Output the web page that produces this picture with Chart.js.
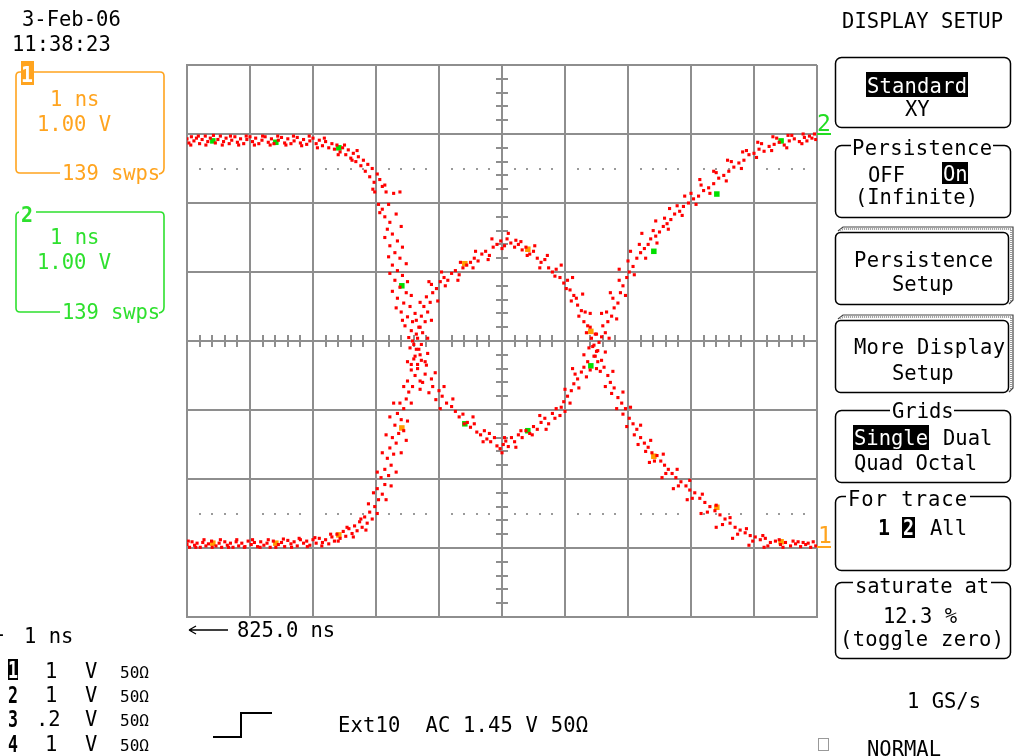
<!DOCTYPE html>
<html>
<head>
<meta charset="utf-8">
<script src="https://cdn.jsdelivr.net/npm/chart.js@4.4.1/dist/chart.umd.min.js"></script>
<style>
  html, body { margin: 0; padding: 0; background: #fff; }
  #wrap { position: relative; width: 1020px; height: 756px; overflow: hidden; background: #fff; }
  #scope { position: absolute; left: 0; top: 0; }
  #ov { position: absolute; left: 0; top: 0; pointer-events: none; }
</style>
</head>
<body>
<div id="wrap">
<canvas id="scope" width="1020" height="756"></canvas>
<svg id="ov" width="1020" height="756" font-family="DejaVu Sans Mono, monospace" font-size="20.5">
  <!-- date / time -->
  <text x="22" y="26" fill="#000">3-Feb-06</text>
  <text x="12" y="51" fill="#000">11:38:23</text>

  <!-- channel 1 box -->
  <path d="M60 173 H20 Q16 173 16 169 V76 Q16 72 20 72 H160 Q164 72 164 76 V168 Q164 173 159 174" fill="none" stroke="#ffa41f" stroke-width="1.6"/>
  <rect x="21" y="61" width="13" height="24" fill="#ffa41f"/>
  <text x="21" y="82" fill="#fff" font-weight="bold" font-size="22" textLength="12" lengthAdjust="spacingAndGlyphs">1</text>
  <text x="50" y="106" fill="#ffa41f">1 ns</text>
  <text x="37" y="131" fill="#ffa41f">1.00 V</text>
  <text x="62" y="180" fill="#ffa41f" textLength="98">139 swps</text>

  <!-- channel 2 box -->
  <path d="M60 312 H20 Q16 312 16 308 V216 Q16 212 20 212 H160 Q164 212 164 216 V307 Q164 312 159 313" fill="none" stroke="#2ee02e" stroke-width="1.6"/>
  <rect x="19" y="202" width="17" height="22" fill="#fff"/>
  <text x="21" y="222" fill="#2ee02e" font-weight="bold" font-size="22" textLength="12" lengthAdjust="spacingAndGlyphs">2</text>
  <text x="50" y="244" fill="#2ee02e">1 ns</text>
  <text x="37" y="269" fill="#2ee02e">1.00 V</text>
  <text x="62" y="319" fill="#2ee02e" textLength="98">139 swps</text>

  <!-- right panel -->
  <text x="842" y="28" fill="#000" textLength="161">DISPLAY SETUP</text>

  <rect x="835.5" y="57.5" width="175" height="70" rx="6" fill="none" stroke="#000" stroke-width="1.5"/>
  <rect x="866" y="72" width="102" height="25" fill="#000"/>
  <text x="867" y="93" fill="#fff" textLength="100">Standard</text>
  <text x="905" y="116" fill="#000">XY</text>

  <rect x="835.5" y="145.5" width="175" height="72" rx="6" fill="none" stroke="#000" stroke-width="1.5"/>
  <rect x="851" y="138" width="142" height="18" fill="#fff"/>
  <text x="852" y="155" fill="#000" textLength="140">Persistence</text>
  <text x="868" y="182" fill="#000">OFF</text>
  <rect x="942" y="162" width="26" height="22" fill="#000"/>
  <text x="943" y="181" fill="#fff">On</text>
  <text x="855" y="204" fill="#000" textLength="123">(Infinite)</text>

  <polyline points="838,231 843,227 1013,227 1013,300 1009,304" fill="none" stroke="#444" stroke-width="1.2"/>
  <polyline points="840,230 844,229 1011,229 1011,302" fill="none" stroke="#999" stroke-width="2" stroke-dasharray="1 1"/>
  <rect x="835.5" y="232.5" width="173" height="72" rx="5" fill="#fff" stroke="#000" stroke-width="1.5"/>
  <text x="854" y="267" fill="#000" textLength="139">Persistence</text>
  <text x="892" y="291" fill="#000">Setup</text>

  <polyline points="838,319 843,315 1013,315 1013,388 1009,392" fill="none" stroke="#444" stroke-width="1.2"/>
  <polyline points="840,318 844,317 1011,317 1011,390" fill="none" stroke="#999" stroke-width="2" stroke-dasharray="1 1"/>
  <rect x="835.5" y="320.5" width="173" height="72" rx="5" fill="#fff" stroke="#000" stroke-width="1.5"/>
  <text x="854" y="354" fill="#000" textLength="151">More Display</text>
  <text x="892" y="380" fill="#000">Setup</text>

  <rect x="835.5" y="410.5" width="175" height="72" rx="6" fill="none" stroke="#000" stroke-width="1.5"/>
  <rect x="890" y="402" width="64" height="18" fill="#fff"/>
  <text x="892" y="418" fill="#000">Grids</text>
  <rect x="853" y="425" width="76" height="25" fill="#000"/>
  <text x="854" y="445" fill="#fff">Single</text>
  <text x="943" y="445" fill="#000">Dual</text>
  <text x="854" y="470" fill="#000" textLength="123">Quad Octal</text>

  <rect x="835.5" y="496.5" width="175" height="74" rx="6" fill="none" stroke="#000" stroke-width="1.5"/>
  <rect x="846" y="488" width="124" height="18" fill="#fff"/>
  <text x="848" y="506" fill="#000" textLength="119">For trace</text>
  <text x="878" y="535" fill="#000" font-weight="bold" font-size="22" textLength="12" lengthAdjust="spacingAndGlyphs">1</text>
  <rect x="902" y="517" width="13" height="21" fill="#000"/>
  <text x="903" y="535" fill="#fff" font-weight="bold" font-size="22" textLength="11" lengthAdjust="spacingAndGlyphs">2</text>
  <text x="930" y="535" fill="#000">All</text>

  <rect x="835.5" y="582.5" width="175" height="76" rx="6" fill="none" stroke="#000" stroke-width="1.5"/>
  <rect x="853" y="575" width="138" height="18" fill="#fff"/>
  <text x="855" y="593" fill="#000" textLength="134">saturate at</text>
  <text x="883" y="623" fill="#000">12.3 %</text>
  <text x="840" y="646" fill="#000" textLength="164">(toggle zero)</text>

  <text x="907" y="708" fill="#000">1 GS/s</text>
  <rect x="818.5" y="738.5" width="10" height="12" fill="none" stroke="#999" stroke-width="1"/>
  <text x="867" y="756" fill="#000">NORMAL</text>

  <!-- trace level markers -->
  <text x="817" y="131" fill="#22dd22" font-size="23">2</text>
  <rect x="817" y="133" width="14" height="2" fill="#22dd22"/>
  <text x="818" y="543" fill="#ffa41f" font-size="23">1</text>
  <rect x="817" y="546" width="14" height="2" fill="#ffa41f"/>

  <!-- bottom left -->
  <text x="-8" y="636" fill="#000">1</text>
  <text x="24" y="643" fill="#000">1 ns</text>
  <path d="M189 630 H228 M189 630 L196 626 M189 630 L196 634" stroke="#000" stroke-width="1.3" fill="none"/>
  <text x="237" y="637" fill="#000" textLength="98">825.0 ns</text>

  <rect x="8" y="659" width="10" height="21" fill="#000"/>
  <text x="8" y="678" fill="#fff" font-weight="bold" font-size="23" textLength="10" lengthAdjust="spacingAndGlyphs">1</text>
  <text x="8" y="703" fill="#000" font-weight="bold" font-size="23" textLength="10" lengthAdjust="spacingAndGlyphs">2</text>
  <text x="8" y="727" fill="#000" font-weight="bold" font-size="23" textLength="10" lengthAdjust="spacingAndGlyphs">3</text>
  <text x="8" y="752" fill="#000" font-weight="bold" font-size="23" textLength="10" lengthAdjust="spacingAndGlyphs">4</text>
  <g fill="#000">
    <text x="45" y="678">1</text><text x="85" y="678">V</text><text x="120" y="678" font-size="15" textLength="29" lengthAdjust="spacingAndGlyphs">50Ω</text>
    <text x="45" y="702">1</text><text x="85" y="702">V</text><text x="120" y="702" font-size="15" textLength="29" lengthAdjust="spacingAndGlyphs">50Ω</text>
    <text x="36" y="726">.2</text><text x="85" y="726">V</text><text x="120" y="726" font-size="15" textLength="29" lengthAdjust="spacingAndGlyphs">50Ω</text>
    <text x="45" y="751">1</text><text x="85" y="751">V</text><text x="120" y="751" font-size="15" textLength="29" lengthAdjust="spacingAndGlyphs">50Ω</text>
  </g>
  <path d="M213 737 H241 V713 H272" stroke="#000" stroke-width="2" fill="none"/>
  <text x="338" y="732" fill="#000" textLength="250" xml:space="preserve">Ext10  AC 1.45 V 50Ω</text>
</svg>
</div>
<script>
// ---- data (divisions: x = 1 ns/div, y = 1 V/div) ----
const sampleTimes   = [-4.59, -3.59, -2.59, -1.59, -0.59, 0.41, 1.41, 2.41, 3.41, 4.43];
const trace1Samples = [-2.93, -2.93, -2.81, -1.26, 1.12, 1.33, 0.14, -1.67, -2.41, -2.91];
const trace2Samples = [2.90, 2.88, 2.80, 0.80, -1.20, -1.30, -0.36, 1.30, 2.13, 2.90];

// persistence cloud, trace 2 (starts high)
const persist2Flat = [[-5.00,2.93],[-4.97,2.87],[-4.93,2.96],[-4.89,2.90],[-4.85,2.94],[-4.80,2.86],[-4.76,2.92],[-4.71,2.97],[-4.67,2.89],[-4.63,2.94],[-4.55,2.87],[-4.51,2.92],[-4.47,2.97],[-4.42,2.89],[-4.38,2.94],[-4.33,2.86],[-4.29,2.91],[-4.24,2.96],[-4.20,2.88],[-4.15,2.93],[-4.10,2.86],[-4.05,2.92],[-4.00,2.96],[-3.96,2.89],[-3.91,2.94],[-3.86,2.86],[-3.81,2.91],[-3.76,2.96],[-3.71,2.88],[-3.66,2.93],[-3.62,2.86],[-3.55,2.91],[-3.50,2.95],[-3.45,2.87],[-3.40,2.93],[-3.35,2.86],[-3.30,2.90],[-3.25,2.95],[-3.20,2.87],[-3.15,2.92],[-3.10,2.85],[-3.05,2.90],[-3.00,2.94],[-2.95,2.86],[-2.90,2.91],[-2.85,2.83],[-2.80,2.89],[-2.75,2.80],[-2.70,2.86]];
const persist2Fall = [[-2.66,2.78],[-2.62,2.84],[-2.57,2.74],[-2.53,2.80],[-2.48,2.70],[-2.44,2.77],[-2.40,2.65],[-2.36,2.72],[-2.32,2.60],[-2.28,2.67],[-2.24,2.54],[-2.20,2.62],[-2.17,2.46],[-2.13,2.56],[-2.10,2.38],[-2.06,2.50],[-2.03,2.30],[-1.98,2.42],[-1.94,2.34],[-1.90,2.24],[-2.02,2.16],[-1.84,2.16],[-1.72,2.14],[-1.96,1.98],[-1.90,1.91],[-1.86,1.80],[-1.78,1.72],[-1.68,1.84],[-1.82,1.62],[-1.74,1.55],[-1.66,1.45],[-1.78,1.38],[-1.70,1.28],[-1.62,1.20],[-1.74,1.10],[-1.66,1.02],[-1.58,0.95],[-1.70,0.88],[-1.62,0.78],[-1.52,0.70],[-1.66,0.62],[-1.56,0.55],[-1.46,0.50],[-1.60,0.42],[-1.50,0.35],[-1.42,0.28],[-1.54,0.22],[-1.44,0.15],[-1.36,0.10],[-1.48,0.05]];
const persist2Trough = [[-1.40,-0.05],[-1.32,-0.12],[-1.38,-0.22],[-1.28,-0.28],[-1.20,-0.35],[-1.34,-0.40],[-1.22,-0.48],[-1.12,-0.55],[-1.26,-0.60],[-1.10,-0.66],[-1.00,-0.72],[-1.16,-0.75],[-0.95,-0.80],[-1.05,-0.85],[-0.88,-0.90],[-0.80,-0.95],[-0.74,-1.02],[-0.68,-1.10],[-0.62,-1.06],[-0.55,-1.18],[-0.50,-1.25],[-0.44,-1.20],[-0.40,-1.32],[-0.34,-1.36],[-0.28,-1.30],[-0.24,-1.42],[-0.18,-1.46],[-0.12,-1.40],[-0.08,-1.52],[-0.03,-1.56],[0.02,-1.50],[0.06,-1.45],[0.10,-1.53],[0.15,-1.40],[0.20,-1.46],[0.26,-1.36],[0.32,-1.40],[0.38,-1.30],[0.44,-1.34],[0.50,-1.24],[0.56,-1.28],[0.62,-1.18],[0.68,-1.12],[0.74,-1.20],[0.80,-1.05],[0.86,-0.98],[0.92,-1.08],[0.98,-0.88]];
const persist2Rise = [[1.04,-0.80],[1.00,-0.70],[1.10,-0.72],[1.14,-0.62],[1.20,-0.55],[1.16,-0.48],[1.26,-0.45],[1.30,-0.38],[1.36,-0.30],[1.40,-0.42],[1.46,-0.22],[1.50,-0.15],[1.44,-0.08],[1.54,-0.02],[1.58,0.06],[1.64,0.12],[1.60,0.22],[1.68,0.28],[1.74,0.36],[1.66,0.42],[1.78,0.48],[1.84,0.55],[1.76,0.62],[1.88,0.70],[1.92,0.80],[1.86,0.88],[1.98,0.92],[2.02,1.00],[2.08,1.08],[2.00,1.16],[2.14,1.20],[2.20,1.28],[2.26,1.34],[2.18,1.40],[2.32,1.40],[2.36,1.48],[2.44,1.52],[2.40,1.60],[2.50,1.58],[2.56,1.66],[2.62,1.70],[2.58,1.78],[2.68,1.76],[2.74,1.84],[2.82,1.88],[2.78,1.96],[2.88,1.95],[2.96,2.00],[3.04,2.06],[3.00,2.14],[3.12,2.10],[3.20,2.18],[3.16,2.26],[3.28,2.22],[3.36,2.28],[3.44,2.36],[3.40,2.44],[3.52,2.40],[3.60,2.46],[3.68,2.52],[3.64,2.60],[3.76,2.58],[3.84,2.62],[3.92,2.70],[3.88,2.76],[4.00,2.72],[4.08,2.78],[4.16,2.75],[4.12,2.86],[4.24,2.82],[4.32,2.85],[4.40,2.88],[4.36,2.94],[4.48,2.84],[4.56,2.90],[4.64,2.93],[4.60,2.98],[4.72,2.89],[4.80,2.95],[4.88,2.97],[4.84,2.90],[4.96,3.00],[4.92,2.94]];
const persist2Spread = [[-4.94,2.84],[-4.82,2.97],[-4.70,2.84],[-4.58,2.98],[-4.44,2.84],[-4.31,2.97],[-4.18,2.84],[-4.06,2.97],[-3.93,2.84],[-3.80,2.97],[-3.68,2.84],[-3.56,2.97],[-3.43,2.84],[-3.31,2.97],[-3.18,2.83],[-3.06,2.97],[-2.93,2.80],[-2.82,2.94],[-2.60,2.70],[-2.50,2.84],[-2.38,2.62],[-2.30,2.76],[-2.05,2.20],[-1.86,2.26],[-1.62,2.16],[-1.80,1.98],[-1.94,1.86],[-1.60,1.66],[-1.86,1.50],[-1.58,1.36],[-1.80,1.22],[-1.52,1.12],[-1.78,0.98],[-1.50,0.86],[-1.74,0.72],[-1.44,0.66],[-1.68,0.48],[-1.38,0.40],[-1.58,0.30],[-1.30,0.20],[-1.46,-0.10],[-1.18,-0.18],[-1.44,-0.34],[-1.06,-0.46],[-1.30,-0.70],[-0.92,-0.66],[-0.98,-0.98],[-0.78,-0.84],[-0.60,-1.20],[-0.46,-1.10],[-0.30,-1.46],[-0.20,-1.34],[0.00,-1.62],[0.04,-1.40],[0.22,-1.54],[0.30,-1.30],[0.48,-1.36],[0.60,-1.08],[0.70,-1.28],[0.84,-1.12],[0.94,-0.96],[1.00,-1.02],[1.08,-0.90],[1.22,-0.68],[1.12,-0.40],[1.34,-0.52],[1.30,-0.20],[1.52,-0.30],[1.48,0.10],[1.70,0.04],[1.58,0.40],[1.82,0.32],[1.72,0.70],[1.96,0.66],[1.86,1.04],[2.10,0.96],[2.04,1.30],[2.28,1.20],[2.22,1.56],[2.46,1.42],[2.44,1.74],[2.64,1.62],[2.66,1.92],[2.86,1.82],[2.90,2.10],[3.08,1.98],[3.14,2.34],[3.30,2.14],[3.36,2.46],[3.56,2.32],[3.58,2.62],[3.80,2.50],[3.82,2.74],[4.04,2.66],[4.06,2.88],[4.28,2.76],[4.30,2.96],[4.52,2.80],[4.54,2.98],[4.76,2.86],[4.78,3.00],[4.98,2.92]];

// persistence cloud, trace 1 (starts low)
const persist1Flat = [[-5.00,-2.95],[-4.96,-2.99],[-4.92,-2.91],[-4.88,-2.96],[-4.84,-2.93],[-4.79,-2.99],[-4.75,-2.92],[-4.70,-2.97],[-4.66,-2.94],[-4.61,-2.90],[-4.54,-2.97],[-4.49,-2.93],[-4.45,-2.99],[-4.40,-2.91],[-4.36,-2.96],[-4.31,-2.93],[-4.27,-2.99],[-4.22,-2.91],[-4.18,-2.97],[-4.13,-2.93],[-4.08,-2.98],[-4.03,-2.90],[-3.98,-2.95],[-3.93,-2.92],[-3.88,-2.98],[-3.83,-2.91],[-3.78,-2.96],[-3.73,-2.93],[-3.68,-2.99],[-3.63,-2.90],[-3.55,-2.95],[-3.50,-2.92],[-3.45,-2.98],[-3.40,-2.89],[-3.35,-2.94],[-3.30,-2.91],[-3.25,-2.97],[-3.20,-2.88],[-3.15,-2.93],[-3.10,-2.90],[-3.05,-2.96],[-3.00,-2.88],[-2.95,-2.93],[-2.90,-2.86],[-2.85,-2.92],[-2.80,-2.88],[-2.75,-2.94]];
const persist1Rise = [[-2.70,-2.84],[-2.66,-2.90],[-2.62,-2.80],[-2.57,-2.86],[-2.52,-2.76],[-2.48,-2.83],[-2.43,-2.72],[-2.38,-2.79],[-2.34,-2.68],[-2.30,-2.75],[-2.26,-2.62],[-2.22,-2.70],[-2.18,-2.55],[-2.14,-2.64],[-2.10,-2.48],[-2.06,-2.58],[-2.02,-2.40],[-1.98,-2.50],[-1.96,-2.30],[-1.90,-2.22],[-1.98,-2.14],[-1.86,-2.08],[-1.92,-1.98],[-1.80,-1.95],[-1.86,-1.86],[-1.76,-1.80],[-1.82,-1.70],[-1.72,-1.64],[-1.78,-1.55],[-1.68,-1.48],[-1.74,-1.40],[-1.64,-1.34],[-1.56,-1.30],[-1.70,-1.22],[-1.60,-1.14],[-1.66,-1.05],[-1.56,-0.98],[-1.62,-0.90],[-1.52,-0.84]];
const persist1Crest = [[-1.48,-0.74],[-1.42,-0.66],[-1.50,-0.58],[-1.38,-0.50],[-1.44,-0.42],[-1.34,-0.34],[-1.40,-0.26],[-1.30,-0.20],[-1.36,-0.12],[-1.28,-0.05],[-1.34,0.04],[-1.26,0.12],[-1.32,0.20],[-1.22,0.28],[-1.28,0.36],[-1.18,0.42],[-1.24,0.50],[-1.14,0.56],[-1.20,0.64],[-1.10,0.70],[-1.04,0.76],[-1.12,0.82],[-0.98,0.86],[-0.92,0.92],[-0.86,0.88],[-0.80,0.98],[-0.74,1.02],[-0.68,0.96],[-0.62,1.06],[-0.56,1.10],[-0.50,1.14],[-0.44,1.20],[-0.38,1.16],[-0.32,1.26],[-0.26,1.30],[-0.20,1.24],[-0.14,1.36],[-0.08,1.40],[-0.02,1.45],[0.04,1.38],[0.08,1.48],[0.14,1.42],[0.20,1.36],[0.26,1.40],[0.32,1.32],[0.38,1.36],[0.44,1.26],[0.50,1.30],[0.56,1.20],[0.62,1.14],[0.68,1.18],[0.74,1.06],[0.80,1.00],[0.86,1.04],[0.92,0.92],[0.98,0.84],[1.04,0.88],[1.08,0.74],[1.14,0.66],[1.10,0.58],[1.20,0.52],[1.26,0.44],[1.22,0.36],[1.30,0.28],[1.36,0.22],[1.34,0.12]];
const persist1Fall = [[1.42,0.04],[1.46,-0.06],[1.52,-0.14],[1.48,-0.22],[1.58,-0.28],[1.62,-0.38],[1.56,-0.44],[1.68,-0.50],[1.72,-0.60],[1.78,-0.68],[1.74,-0.76],[1.84,-0.82],[1.90,-0.90],[1.96,-0.98],[1.92,-1.06],[2.02,-1.12],[2.08,-1.20],[2.14,-1.28],[2.10,-1.36],[2.20,-1.40],[2.26,-1.48],[2.32,-1.54],[2.28,-1.60],[2.38,-1.62],[2.46,-1.66],[2.42,-1.74],[2.52,-1.74],[2.58,-1.80],[2.64,-1.86],[2.60,-1.92],[2.70,-1.92],[2.76,-1.98],[2.84,-2.04],[2.80,-2.10],[2.92,-2.10],[2.98,-2.16],[3.06,-2.20],[3.02,-2.28],[3.14,-2.28],[3.22,-2.34],[3.30,-2.40],[3.26,-2.48],[3.38,-2.46],[3.46,-2.52],[3.54,-2.58],[3.50,-2.66],[3.62,-2.64],[3.70,-2.70],[3.78,-2.74],[3.74,-2.80],[3.86,-2.78],[3.94,-2.82],[4.02,-2.84],[3.98,-2.90],[4.10,-2.88],[4.18,-2.86],[4.26,-2.92],[4.22,-2.97],[4.34,-2.90],[4.42,-2.95],[4.50,-2.92],[4.46,-2.99],[4.58,-2.97],[4.66,-2.94],[4.74,-2.98],[4.70,-2.91],[4.82,-2.95],[4.90,-2.99],[4.86,-2.93],[4.98,-2.97]];
const persist1Spread = [[-4.98,-2.90],[-4.86,-2.99],[-4.73,-2.88],[-4.60,-2.99],[-4.47,-2.88],[-4.34,-2.99],[-4.21,-2.88],[-4.09,-2.99],[-3.96,-2.88],[-3.84,-2.99],[-3.71,-2.88],[-3.59,-2.99],[-3.47,-2.87],[-3.34,-2.99],[-3.22,-2.86],[-3.09,-2.98],[-2.97,-2.85],[-2.86,-2.97],[-2.72,-2.80],[-2.60,-2.90],[-2.46,-2.70],[-2.36,-2.84],[-2.24,-2.58],[-2.16,-2.74],[-2.12,-2.36],[-1.84,-2.30],[-2.04,-2.20],[-1.76,-2.10],[-1.98,-1.90],[-1.68,-1.90],[-1.90,-1.62],[-1.60,-1.62],[-1.84,-1.36],[-1.52,-1.44],[-1.78,-1.10],[-1.50,-1.16],[-1.72,-0.90],[-1.44,-0.90],[-1.56,-0.66],[-1.30,-0.58],[-1.50,-0.30],[-1.22,-0.30],[-1.42,0.00],[-1.18,0.04],[-1.36,0.30],[-1.12,0.30],[-1.30,0.56],[-1.02,0.58],[-1.16,0.86],[-0.90,0.80],[-0.96,1.00],[-0.70,0.88],[-0.66,1.14],[-0.46,1.06],[-0.42,1.30],[-0.22,1.18],[-0.16,1.48],[0.00,1.34],[0.10,1.56],[0.22,1.46],[0.30,1.44],[0.40,1.24],[0.52,1.38],[0.60,1.06],[0.72,1.24],[0.84,0.94],[0.94,1.10],[1.02,0.76],[1.12,0.92],[1.18,0.62],[1.28,0.68],[1.32,0.42],[1.40,0.40],[1.40,0.20],[1.50,0.10],[1.38,-0.10],[1.64,-0.16],[1.50,-0.40],[1.76,-0.44],[1.64,-0.66],[1.92,-0.74],[1.82,-0.98],[2.04,-0.96],[1.98,-1.24],[2.20,-1.22],[2.16,-1.50],[2.36,-1.44],[2.34,-1.76],[2.56,-1.64],[2.54,-1.98],[2.78,-1.86],[2.72,-2.14],[2.98,-2.02],[2.94,-2.30],[3.18,-2.22],[3.16,-2.50],[3.40,-2.38],[3.40,-2.70],[3.62,-2.56],[3.66,-2.86],[3.88,-2.72],[3.92,-2.96],[4.14,-2.82],[4.16,-2.99],[4.40,-2.88],[4.62,-2.90],[4.78,-2.92],[4.94,-2.91]];

// ---- styles ----
const gridColor = '#8e8e8e';
const persistColor = '#ff0000';
const ch1Color = '#ff9c00';
const ch2Color = '#00e000';
const dottedLevels = [2.5, -2.5];

const toPts = arr => arr.map(p => ({ x: p[0], y: p[1] }));
const persist1 = [].concat(persist1Flat, persist1Rise, persist1Crest, persist1Fall, persist1Spread);
const persist2 = [].concat(persist2Flat, persist2Fall, persist2Trough, persist2Rise, persist2Spread);

const scopeGrid = {
  id: 'scopeGrid',
  beforeDatasetsDraw(chart) {
    const { ctx, scales: { x, y } } = chart;
    const x0 = Math.round(x.getPixelForValue(0));
    const y0 = Math.round(y.getPixelForValue(0));
    ctx.save();
    ctx.strokeStyle = gridColor;
    ctx.lineWidth = 2;
    ctx.beginPath();
    for (let k = -25; k <= 25; k++) {
      if (k % 5 === 0) continue;
      const px = Math.round(x.getPixelForValue(k / 5));
      ctx.moveTo(px, y0 - 6); ctx.lineTo(px, y0 + 6);
    }
    for (let k = -20; k <= 20; k++) {
      if (k % 5 === 0) continue;
      const py = Math.round(y.getPixelForValue(k / 5));
      ctx.moveTo(x0 - 6, py); ctx.lineTo(x0 + 6, py);
    }
    ctx.stroke();
    ctx.fillStyle = '#9a9a9a';
    dottedLevels.forEach(lv => {
      const py = Math.round(y.getPixelForValue(lv));
      for (let k = -25; k <= 25; k++) {
        if (k % 5 === 0) continue;
        const px = Math.round(x.getPixelForValue(k / 5));
        ctx.fillRect(px - 1, py - 1, 2, 2);
      }
    });
    ctx.restore();
  }
};

new Chart(document.getElementById('scope'), {
  type: 'scatter',
  data: {
    datasets: [
      { label: 'persist 1', data: toPts(persist1), pointStyle: 'rect', pointRadius: 2.2, pointBorderWidth: 0, backgroundColor: persistColor, borderColor: persistColor },
      { label: 'persist 2', data: toPts(persist2), pointStyle: 'rect', pointRadius: 2.2, pointBorderWidth: 0, backgroundColor: persistColor, borderColor: persistColor },
      { label: 'trace 1', data: sampleTimes.map((t, i) => ({ x: t, y: trace1Samples[i] })), pointStyle: 'rect', pointRadius: 3.9, pointBorderWidth: 0, backgroundColor: ch1Color, borderColor: ch1Color },
      { label: 'trace 2', data: sampleTimes.map((t, i) => ({ x: t, y: trace2Samples[i] })), pointStyle: 'rect', pointRadius: 3.9, pointBorderWidth: 0, backgroundColor: ch2Color, borderColor: ch2Color }
    ]
  },
  options: {
    responsive: false,
    animation: false,
    events: [],
    layout: { padding: { left: 187, top: 65, right: 203, bottom: 139 } },
    plugins: { legend: { display: false }, tooltip: { enabled: false } },
    scales: {
      x: {
        type: 'linear', min: -5, max: 5,
        ticks: { display: false, stepSize: 1 },
        grid: { color: gridColor, lineWidth: 2, drawTicks: false },
        border: { color: gridColor, width: 2 }
      },
      y: {
        type: 'linear', min: -4, max: 4,
        ticks: { display: false, stepSize: 1 },
        grid: { color: gridColor, lineWidth: 2, drawTicks: false },
        border: { color: gridColor, width: 2 }
      }
    }
  },
  plugins: [scopeGrid]
});
</script>
</body>
</html>
